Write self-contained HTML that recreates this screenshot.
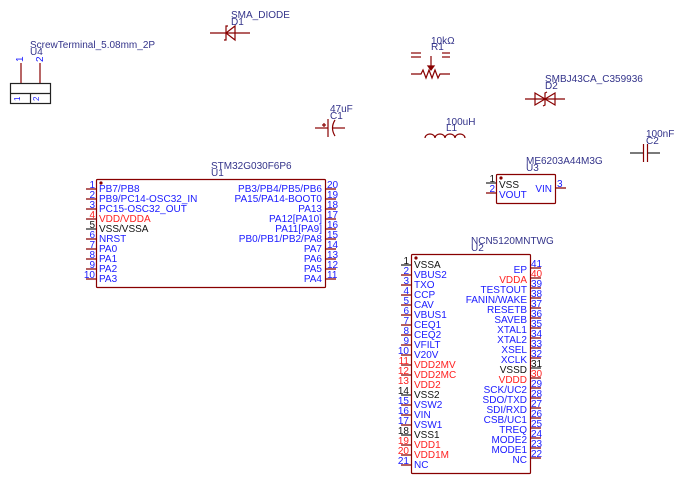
<!DOCTYPE html>
<html><head><meta charset="utf-8"><style>
html,body{margin:0;padding:0;background:#fff;}
svg{display:block;}
text{font-family:"Liberation Sans",sans-serif;font-size:10px;}
.l{fill:#33338a;}
.b{fill:#1a1aff;}
.r{fill:#ff2020;}
.k{fill:#111;}
.e{text-anchor:end;}
</style></head><body>
<svg width="682" height="484" viewBox="0 0 682 484" xmlns="http://www.w3.org/2000/svg">
<g stroke="#880000" fill="none" stroke-width="1.2">
<!-- U4 -->
<rect x="10.5" y="83.5" width="40" height="20" stroke="#222"/>
<line x1="10" y1="93.5" x2="50" y2="93.5" stroke="#222"/>
<line x1="30.5" y1="93" x2="30.5" y2="103" stroke="#222"/>
<line x1="21" y1="63" x2="21" y2="83"/>
<line x1="40" y1="63" x2="40" y2="83"/>
<!-- D1 -->
<line x1="210" y1="33" x2="250" y2="33"/>
<polygon points="226,33 235,26 235,40"/>
<polyline points="228,26 226,26 226,40 224,40"/>
<!-- C1 -->
<line x1="315" y1="128" x2="328" y2="128"/>
<line x1="328" y1="119" x2="328" y2="137"/>
<path d="M335,120 Q330,128 335,136"/>
<line x1="332" y1="128" x2="345" y2="128"/>
<line x1="322" y1="125" x2="326" y2="125"/><line x1="324" y1="123" x2="324" y2="127"/>
<!-- R1 -->
<line x1="411" y1="53" x2="421" y2="53"/><line x1="411" y1="57" x2="421" y2="57"/>
<line x1="442" y1="53" x2="450" y2="53"/><line x1="442" y1="57" x2="450" y2="57"/>
<line x1="431" y1="56" x2="431" y2="67"/>
<polygon points="428,66 434,66 431,70" fill="#880000"/>
<polyline points="411,74 421,74 423,70 426,78 429,70 432,78 435,70 438,78 440,74 450,74"/>
<!-- D2 -->
<line x1="525" y1="99" x2="565" y2="99"/>
<polygon points="535,93 545,99 535,105"/>
<polygon points="555,93 545,99 555,105"/>
<polyline points="547,92 545,93 545,105 543,106"/>
<!-- L1 -->
<path d="M425,138 a5,4 0 0 1 10,0 a5,4 0 0 1 10,0 a5,4 0 0 1 10,0 a5,4 0 0 1 10,0"/>
<!-- C2 -->
<line x1="630" y1="153" x2="643" y2="153" stroke="#222"/>
<line x1="648" y1="153" x2="660" y2="153" stroke="#222"/>
<line x1="643.5" y1="144" x2="643.5" y2="162"/>
<line x1="647.5" y1="144" x2="647.5" y2="162"/>
<!-- U1 -->
<rect x="96.5" y="179.5" width="229" height="108" rx="1"/>
<path d="M86,189h10M86,199h10M86,209h10M86,219h10M86,239h10M86,249h10M86,259h10M86,269h10M86,279h10M326,189h10M326,199h10M326,209h10M326,219h10M326,229h10M326,239h10M326,249h10M326,259h10M326,269h10M326,279h10"/>
<path d="M86,229h10" stroke="#222"/>
<!-- U2 -->
<rect x="411.5" y="254.5" width="119" height="219" rx="1"/>
<path d="M401,275h10M401,285h10M401,295h10M401,305h10M401,315h10M401,325h10M401,335h10M401,345h10M401,355h10M401,365h10M401,375h10M401,405h10M401,415h10M401,425h10M401,445h10M401,455h10M401,465h10"/>
<path d="M401,265h10M401,395h10M401,435h10" stroke="#222"/>
<path d="M531,268h10M531,278h10M531,288h10M531,298h10M531,308h10M531,318h10M531,328h10M531,338h10M531,348h10M531,358h10M531,378h10M531,388h10M531,398h10M531,408h10M531,418h10M531,428h10M531,438h10M531,448h10M531,458h10"/>
<path d="M531,368h10" stroke="#222"/>
<!-- U3 -->
<rect x="496.5" y="174.5" width="59" height="29" rx="1"/>
<path d="M486,193h10M556,188h10"/>
<path d="M486,183h10" stroke="#222"/>
</g>
<circle cx="101" cy="183" r="1.6" fill="#880000"/>
<circle cx="416" cy="258" r="1.6" fill="#880000"/>
<circle cx="501" cy="178" r="1.6" fill="#880000"/>

<!-- labels -->
<text class="l" x="30" y="48">ScrewTerminal_5.08mm_2P</text>
<text class="l" x="30" y="55">U4</text>
<text class="b" transform="translate(23,62) rotate(-90)">1</text>
<text class="b" transform="translate(43,62) rotate(-90)">2</text>
<text class="b" transform="translate(20,101) rotate(-90)" style="font-size:8px">1</text>
<text class="b" transform="translate(39,101) rotate(-90)" style="font-size:8px">2</text>
<text class="l" x="231" y="18">SMA_DIODE</text>
<text class="l" x="231" y="25">D1</text>
<text class="l" x="330" y="112">47uF</text>
<text class="l" x="330" y="119">C1</text>
<text class="l" x="431" y="44">10kΩ</text>
<text class="l" x="431" y="50">R1</text>
<text class="l" x="545" y="82">SMBJ43CA_C359936</text>
<text class="l" x="545" y="89">D2</text>
<text class="l" x="446" y="125">100uH</text>
<text class="l" x="446" y="131">L1</text>
<text class="l" x="646" y="137">100nF</text>
<text class="l" x="646" y="144">C2</text>
<text class="l" x="526" y="164">ME6203A44M3G</text>
<text class="l" x="526" y="171">U3</text>
<text class="l" x="211" y="169">STM32G030F6P6</text>
<text class="l" x="211" y="176">U1</text>
<text class="l" x="471" y="244">NCN5120MNTWG</text>
<text class="l" x="471" y="251">U2</text>

<!-- U3 pins -->
<text class="k e" x="495" y="182">1</text>
<text class="b e" x="495" y="192">2</text>
<text class="b" x="557" y="187">3</text>
<text class="k" x="499" y="188">VSS</text>
<text class="b" x="499" y="198">VOUT</text>
<text class="b e" x="552" y="192">VIN</text>

<!-- U1 left -->
<g class="b">
<text class="e" x="95" y="188">1</text><text x="99" y="192">PB7/PB8</text>
<text class="e" x="95" y="198">2</text><text x="99" y="202">PB9/PC14-OSC32_IN</text>
<text class="e" x="95" y="208">3</text><text x="99" y="212">PC15-OSC32_OUT</text>
<text class="e r" x="95" y="218">4</text><text class="r" x="99" y="222">VDD/VDDA</text>
<text class="e k" x="95" y="228">5</text><text class="k" x="99" y="232">VSS/VSSA</text>
<text class="e" x="95" y="238">6</text><text x="99" y="242">NRST</text>
<text class="e" x="95" y="248">7</text><text x="99" y="252">PA0</text>
<text class="e" x="95" y="258">8</text><text x="99" y="262">PA1</text>
<text class="e" x="95" y="268">9</text><text x="99" y="272">PA2</text>
<text class="e" x="95" y="278">10</text><text x="99" y="282">PA3</text>
</g>
<g class="b">
<text class="e" x="322" y="192">PB3/PB4/PB5/PB6</text><text x="327" y="188">20</text>
<text class="e" x="322" y="202">PA15/PA14-BOOT0</text><text x="327" y="198">19</text>
<text class="e" x="322" y="212">PA13</text><text x="327" y="208">18</text>
<text class="e" x="322" y="222">PA12[PA10]</text><text x="327" y="218">17</text>
<text class="e" x="322" y="232">PA11[PA9]</text><text x="327" y="228">16</text>
<text class="e" x="322" y="242">PB0/PB1/PB2/PA8</text><text x="327" y="238">15</text>
<text class="e" x="322" y="252">PA7</text><text x="327" y="248">14</text>
<text class="e" x="322" y="262">PA6</text><text x="327" y="258">13</text>
<text class="e" x="322" y="272">PA5</text><text x="327" y="268">12</text>
<text class="e" x="322" y="282">PA4</text><text x="327" y="278">11</text>
</g>

<!-- U2 left -->
<g class="b">
<text class="e k" x="409" y="264">1</text><text class="k" x="414" y="268">VSSA</text>
<text class="e" x="409" y="274">2</text><text x="414" y="278">VBUS2</text>
<text class="e" x="409" y="284">3</text><text x="414" y="288">TXO</text>
<text class="e" x="409" y="294">4</text><text x="414" y="298">CCP</text>
<text class="e" x="409" y="304">5</text><text x="414" y="308">CAV</text>
<text class="e" x="409" y="314">6</text><text x="414" y="318">VBUS1</text>
<text class="e" x="409" y="324">7</text><text x="414" y="328">CEQ1</text>
<text class="e" x="409" y="334">8</text><text x="414" y="338">CEQ2</text>
<text class="e" x="409" y="344">9</text><text x="414" y="348">VFILT</text>
<text class="e" x="409" y="354">10</text><text x="414" y="358">V20V</text>
<text class="e r" x="409" y="364">11</text><text class="r" x="414" y="368">VDD2MV</text>
<text class="e r" x="409" y="374">12</text><text class="r" x="414" y="378">VDD2MC</text>
<text class="e r" x="409" y="384">13</text><text class="r" x="414" y="388">VDD2</text>
<text class="e k" x="409" y="394">14</text><text class="k" x="414" y="398">VSS2</text>
<text class="e" x="409" y="404">15</text><text x="414" y="408">VSW2</text>
<text class="e" x="409" y="414">16</text><text x="414" y="418">VIN</text>
<text class="e" x="409" y="424">17</text><text x="414" y="428">VSW1</text>
<text class="e k" x="409" y="434">18</text><text class="k" x="414" y="438">VSS1</text>
<text class="e r" x="409" y="444">19</text><text class="r" x="414" y="448">VDD1</text>
<text class="e r" x="409" y="454">20</text><text class="r" x="414" y="458">VDD1M</text>
<text class="e" x="409" y="464">21</text><text x="414" y="468">NC</text>
</g>
<!-- U2 right -->
<g class="b">
<text class="e" x="527" y="273">EP</text><text x="531" y="267">41</text>
<text class="e r" x="527" y="283">VDDA</text><text class="r" x="531" y="277">40</text>
<text class="e" x="527" y="293">TESTOUT</text><text x="531" y="287">39</text>
<text class="e" x="527" y="303">FANIN/WAKE</text><text x="531" y="297">38</text>
<text class="e" x="527" y="313">RESETB</text><text x="531" y="307">37</text>
<text class="e" x="527" y="323">SAVEB</text><text x="531" y="317">36</text>
<text class="e" x="527" y="333">XTAL1</text><text x="531" y="327">35</text>
<text class="e" x="527" y="343">XTAL2</text><text x="531" y="337">34</text>
<text class="e" x="527" y="353">XSEL</text><text x="531" y="347">33</text>
<text class="e" x="527" y="363">XCLK</text><text x="531" y="357">32</text>
<text class="e k" x="527" y="373">VSSD</text><text class="k" x="531" y="367">31</text>
<text class="e r" x="527" y="383">VDDD</text><text class="r" x="531" y="377">30</text>
<text class="e" x="527" y="393">SCK/UC2</text><text x="531" y="387">29</text>
<text class="e" x="527" y="403">SDO/TXD</text><text x="531" y="397">28</text>
<text class="e" x="527" y="413">SDI/RXD</text><text x="531" y="407">27</text>
<text class="e" x="527" y="423">CSB/UC1</text><text x="531" y="417">26</text>
<text class="e" x="527" y="433">TREQ</text><text x="531" y="427">25</text>
<text class="e" x="527" y="443">MODE2</text><text x="531" y="437">24</text>
<text class="e" x="527" y="453">MODE1</text><text x="531" y="447">23</text>
<text class="e" x="527" y="463">NC</text><text x="531" y="457">22</text>
</g>
</svg>
</body></html>
